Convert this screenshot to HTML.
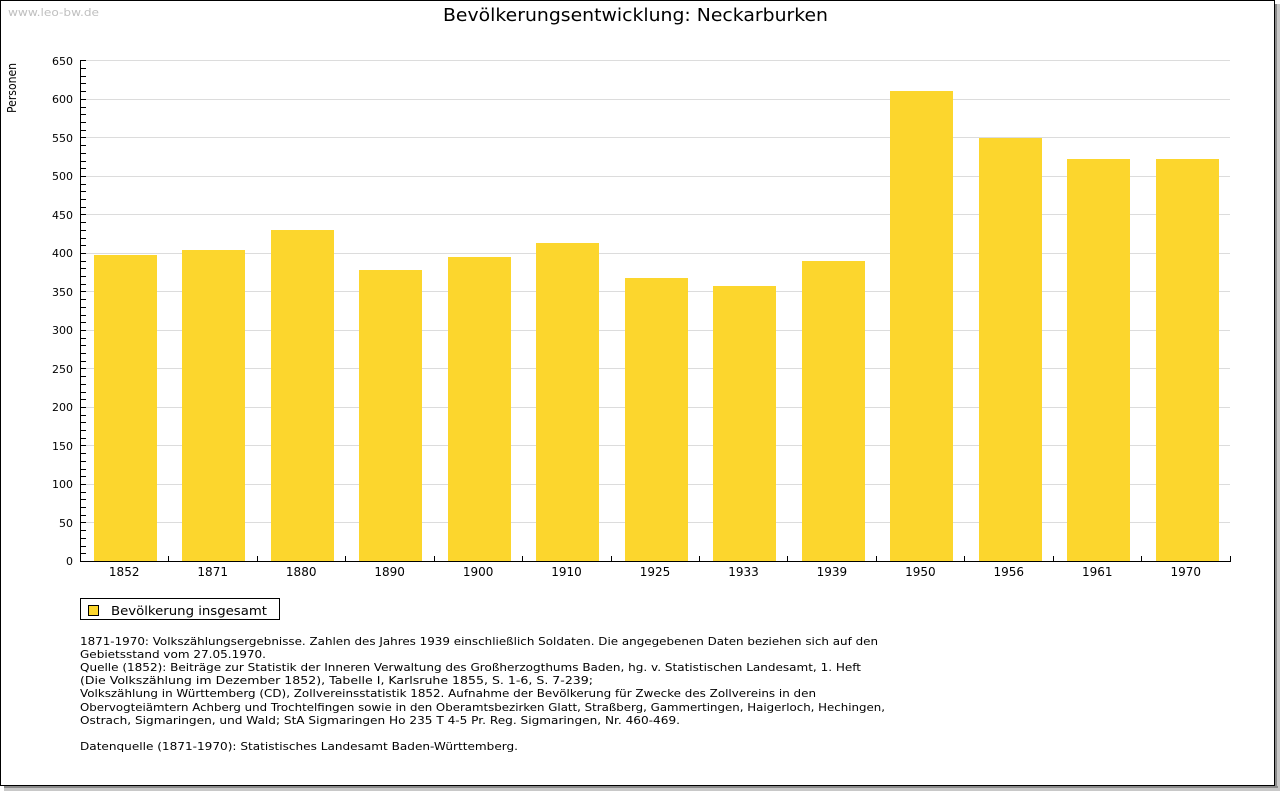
<!DOCTYPE html>
<html><head><meta charset="utf-8"><style>
html,body{margin:0;padding:0;background:#fff;}
svg{display:block;font-family:"DejaVu Sans","Liberation Sans",sans-serif;}
</style></head><body>
<svg width="1280" height="791" viewBox="0 0 1280 791" xmlns="http://www.w3.org/2000/svg">
<rect x="0" y="0" width="1280" height="791" fill="#fff"/>
<!-- shadow -->
<rect x="4" y="786" width="1276" height="5" fill="#c8c8c8"/>
<rect x="1275" y="4" width="5" height="787" fill="#c8c8c8"/>
<rect x="4" y="786" width="1274" height="2" fill="#8a8a8a"/>
<rect x="1275" y="4" width="2" height="784" fill="#8a8a8a"/>
<rect x="0.5" y="0.5" width="1274" height="785" fill="#fff" stroke="#000" stroke-width="1"/>

<text x="8" y="16" font-size="11" fill="#c0c0c0" textLength="91" lengthAdjust="spacingAndGlyphs">www.leo-bw.de</text>
<text x="443" y="21" font-size="18" fill="#000" textLength="385" lengthAdjust="spacingAndGlyphs">Bevölkerungsentwicklung: Neckarburken</text>
<text transform="translate(16,88) rotate(-90)" text-anchor="middle" font-size="12" fill="#000" textLength="50" lengthAdjust="spacingAndGlyphs">Personen</text>

<!-- gridlines -->
<g stroke="#dcdcdc" stroke-width="1">
<line x1="86" x2="1230" y1="60.5" y2="60.5"/>
<line x1="86" x2="1230" y1="99.5" y2="99.5"/>
<line x1="86" x2="1230" y1="137.5" y2="137.5"/>
<line x1="86" x2="1230" y1="176.5" y2="176.5"/>
<line x1="86" x2="1230" y1="214.5" y2="214.5"/>
<line x1="86" x2="1230" y1="253.5" y2="253.5"/>
<line x1="86" x2="1230" y1="291.5" y2="291.5"/>
<line x1="86" x2="1230" y1="330.5" y2="330.5"/>
<line x1="86" x2="1230" y1="368.5" y2="368.5"/>
<line x1="86" x2="1230" y1="407.5" y2="407.5"/>
<line x1="86" x2="1230" y1="445.5" y2="445.5"/>
<line x1="86" x2="1230" y1="484.5" y2="484.5"/>
<line x1="86" x2="1230" y1="522.5" y2="522.5"/>
</g>

<!-- bars -->
<g fill="#fcd62d">
<rect x="94" y="255" width="63" height="306"/>
<rect x="182" y="250" width="63" height="311"/>
<rect x="271" y="230" width="63" height="331"/>
<rect x="359" y="270" width="63" height="291"/>
<rect x="448" y="257" width="63" height="304"/>
<rect x="536" y="243" width="63" height="318"/>
<rect x="625" y="278" width="63" height="283"/>
<rect x="713" y="286" width="63" height="275"/>
<rect x="802" y="261" width="63" height="300"/>
<rect x="890" y="91" width="63" height="470"/>
<rect x="979" y="138" width="63" height="423"/>
<rect x="1067" y="159" width="63" height="402"/>
<rect x="1156" y="159" width="63" height="402"/>
</g>

<!-- axes -->
<g stroke="#000" stroke-width="1">
<line x1="80.5" y1="60" x2="80.5" y2="562"/>
<line x1="80" y1="561.5" x2="1231" y2="561.5"/>
<line x1="80" x2="86" y1="60.5" y2="60.5"/>
<line x1="80" x2="86" y1="68.5" y2="68.5"/>
<line x1="80" x2="86" y1="76.5" y2="76.5"/>
<line x1="80" x2="86" y1="83.5" y2="83.5"/>
<line x1="80" x2="86" y1="91.5" y2="91.5"/>
<line x1="80" x2="86" y1="99.5" y2="99.5"/>
<line x1="80" x2="86" y1="107.5" y2="107.5"/>
<line x1="80" x2="86" y1="114.5" y2="114.5"/>
<line x1="80" x2="86" y1="122.5" y2="122.5"/>
<line x1="80" x2="86" y1="130.5" y2="130.5"/>
<line x1="80" x2="86" y1="137.5" y2="137.5"/>
<line x1="80" x2="86" y1="145.5" y2="145.5"/>
<line x1="80" x2="86" y1="153.5" y2="153.5"/>
<line x1="80" x2="86" y1="161.5" y2="161.5"/>
<line x1="80" x2="86" y1="168.5" y2="168.5"/>
<line x1="80" x2="86" y1="176.5" y2="176.5"/>
<line x1="80" x2="86" y1="184.5" y2="184.5"/>
<line x1="80" x2="86" y1="191.5" y2="191.5"/>
<line x1="80" x2="86" y1="199.5" y2="199.5"/>
<line x1="80" x2="86" y1="207.5" y2="207.5"/>
<line x1="80" x2="86" y1="214.5" y2="214.5"/>
<line x1="80" x2="86" y1="222.5" y2="222.5"/>
<line x1="80" x2="86" y1="230.5" y2="230.5"/>
<line x1="80" x2="86" y1="238.5" y2="238.5"/>
<line x1="80" x2="86" y1="245.5" y2="245.5"/>
<line x1="80" x2="86" y1="253.5" y2="253.5"/>
<line x1="80" x2="86" y1="261.5" y2="261.5"/>
<line x1="80" x2="86" y1="268.5" y2="268.5"/>
<line x1="80" x2="86" y1="276.5" y2="276.5"/>
<line x1="80" x2="86" y1="284.5" y2="284.5"/>
<line x1="80" x2="86" y1="291.5" y2="291.5"/>
<line x1="80" x2="86" y1="299.5" y2="299.5"/>
<line x1="80" x2="86" y1="307.5" y2="307.5"/>
<line x1="80" x2="86" y1="315.5" y2="315.5"/>
<line x1="80" x2="86" y1="322.5" y2="322.5"/>
<line x1="80" x2="86" y1="330.5" y2="330.5"/>
<line x1="80" x2="86" y1="338.5" y2="338.5"/>
<line x1="80" x2="86" y1="345.5" y2="345.5"/>
<line x1="80" x2="86" y1="353.5" y2="353.5"/>
<line x1="80" x2="86" y1="361.5" y2="361.5"/>
<line x1="80" x2="86" y1="368.5" y2="368.5"/>
<line x1="80" x2="86" y1="376.5" y2="376.5"/>
<line x1="80" x2="86" y1="384.5" y2="384.5"/>
<line x1="80" x2="86" y1="392.5" y2="392.5"/>
<line x1="80" x2="86" y1="399.5" y2="399.5"/>
<line x1="80" x2="86" y1="407.5" y2="407.5"/>
<line x1="80" x2="86" y1="415.5" y2="415.5"/>
<line x1="80" x2="86" y1="422.5" y2="422.5"/>
<line x1="80" x2="86" y1="430.5" y2="430.5"/>
<line x1="80" x2="86" y1="438.5" y2="438.5"/>
<line x1="80" x2="86" y1="445.5" y2="445.5"/>
<line x1="80" x2="86" y1="453.5" y2="453.5"/>
<line x1="80" x2="86" y1="461.5" y2="461.5"/>
<line x1="80" x2="86" y1="469.5" y2="469.5"/>
<line x1="80" x2="86" y1="476.5" y2="476.5"/>
<line x1="80" x2="86" y1="484.5" y2="484.5"/>
<line x1="80" x2="86" y1="492.5" y2="492.5"/>
<line x1="80" x2="86" y1="499.5" y2="499.5"/>
<line x1="80" x2="86" y1="507.5" y2="507.5"/>
<line x1="80" x2="86" y1="515.5" y2="515.5"/>
<line x1="80" x2="86" y1="522.5" y2="522.5"/>
<line x1="80" x2="86" y1="530.5" y2="530.5"/>
<line x1="80" x2="86" y1="538.5" y2="538.5"/>
<line x1="80" x2="86" y1="546.5" y2="546.5"/>
<line x1="80" x2="86" y1="553.5" y2="553.5"/>
<line x1="168.5" x2="168.5" y1="556" y2="561"/>
<line x1="257.5" x2="257.5" y1="556" y2="561"/>
<line x1="345.5" x2="345.5" y1="556" y2="561"/>
<line x1="434.5" x2="434.5" y1="556" y2="561"/>
<line x1="522.5" x2="522.5" y1="556" y2="561"/>
<line x1="611.5" x2="611.5" y1="556" y2="561"/>
<line x1="699.5" x2="699.5" y1="556" y2="561"/>
<line x1="787.5" x2="787.5" y1="556" y2="561"/>
<line x1="876.5" x2="876.5" y1="556" y2="561"/>
<line x1="964.5" x2="964.5" y1="556" y2="561"/>
<line x1="1053.5" x2="1053.5" y1="556" y2="561"/>
<line x1="1141.5" x2="1141.5" y1="556" y2="561"/>
<line x1="1230.5" x2="1230.5" y1="556" y2="561"/>
</g>

<g font-size="11" fill="#000" text-anchor="end">
<text x="73" y="65">650</text>
<text x="73" y="103">600</text>
<text x="73" y="142">550</text>
<text x="73" y="180">500</text>
<text x="73" y="219">450</text>
<text x="73" y="257">400</text>
<text x="73" y="296">350</text>
<text x="73" y="334">300</text>
<text x="73" y="373">250</text>
<text x="73" y="411">200</text>
<text x="73" y="450">150</text>
<text x="73" y="488">100</text>
<text x="73" y="527">50</text>
<text x="73" y="565">0</text>
</g>

<g font-size="12" fill="#000" text-anchor="middle">
<text x="124.2" y="576">1852</text>
<text x="212.7" y="576">1871</text>
<text x="301.2" y="576">1880</text>
<text x="389.6" y="576">1890</text>
<text x="478.1" y="576">1900</text>
<text x="566.5" y="576">1910</text>
<text x="655" y="576">1925</text>
<text x="743.5" y="576">1933</text>
<text x="831.9" y="576">1939</text>
<text x="920.4" y="576">1950</text>
<text x="1008.8" y="576">1956</text>
<text x="1097.3" y="576">1961</text>
<text x="1185.8" y="576">1970</text>
</g>

<rect x="80.5" y="598.5" width="199" height="21" fill="#fff" stroke="#000"/>
<rect x="88.5" y="605.5" width="10" height="10" fill="#fcd62d" stroke="#000"/>
<text x="111" y="615" font-size="12" fill="#000" textLength="156" lengthAdjust="spacingAndGlyphs">Bevölkerung insgesamt</text>

<g font-size="11" fill="#000">
<text x="80" y="645" textLength="798" lengthAdjust="spacingAndGlyphs">1871-1970: Volkszählungsergebnisse. Zahlen des Jahres 1939 einschließlich Soldaten. Die angegebenen Daten beziehen sich auf den</text>
<text x="80" y="658" textLength="186" lengthAdjust="spacingAndGlyphs">Gebietsstand vom 27.05.1970.</text>
<text x="80" y="671" textLength="781" lengthAdjust="spacingAndGlyphs">Quelle (1852): Beiträge zur Statistik der Inneren Verwaltung des Großherzogthums Baden, hg. v. Statistischen Landesamt, 1. Heft</text>
<text x="80" y="684" textLength="513" lengthAdjust="spacingAndGlyphs">(Die Volkszählung im Dezember 1852), Tabelle I, Karlsruhe 1855, S. 1-6, S. 7-239;</text>
<text x="80" y="697" textLength="736" lengthAdjust="spacingAndGlyphs">Volkszählung in Württemberg (CD), Zollvereinsstatistik 1852. Aufnahme der Bevölkerung für Zwecke des Zollvereins in den</text>
<text x="80" y="711" textLength="805" lengthAdjust="spacingAndGlyphs">Obervogteiämtern Achberg und Trochtelfingen sowie in den Oberamtsbezirken Glatt, Straßberg, Gammertingen, Haigerloch, Hechingen,</text>
<text x="80" y="724" textLength="600" lengthAdjust="spacingAndGlyphs">Ostrach, Sigmaringen, und Wald; StA Sigmaringen Ho 235 T 4-5 Pr. Reg. Sigmaringen, Nr. 460-469.</text>
<text x="80" y="750" textLength="438" lengthAdjust="spacingAndGlyphs">Datenquelle (1871-1970): Statistisches Landesamt Baden-Württemberg.</text>
</g>
</svg>
</body></html>
